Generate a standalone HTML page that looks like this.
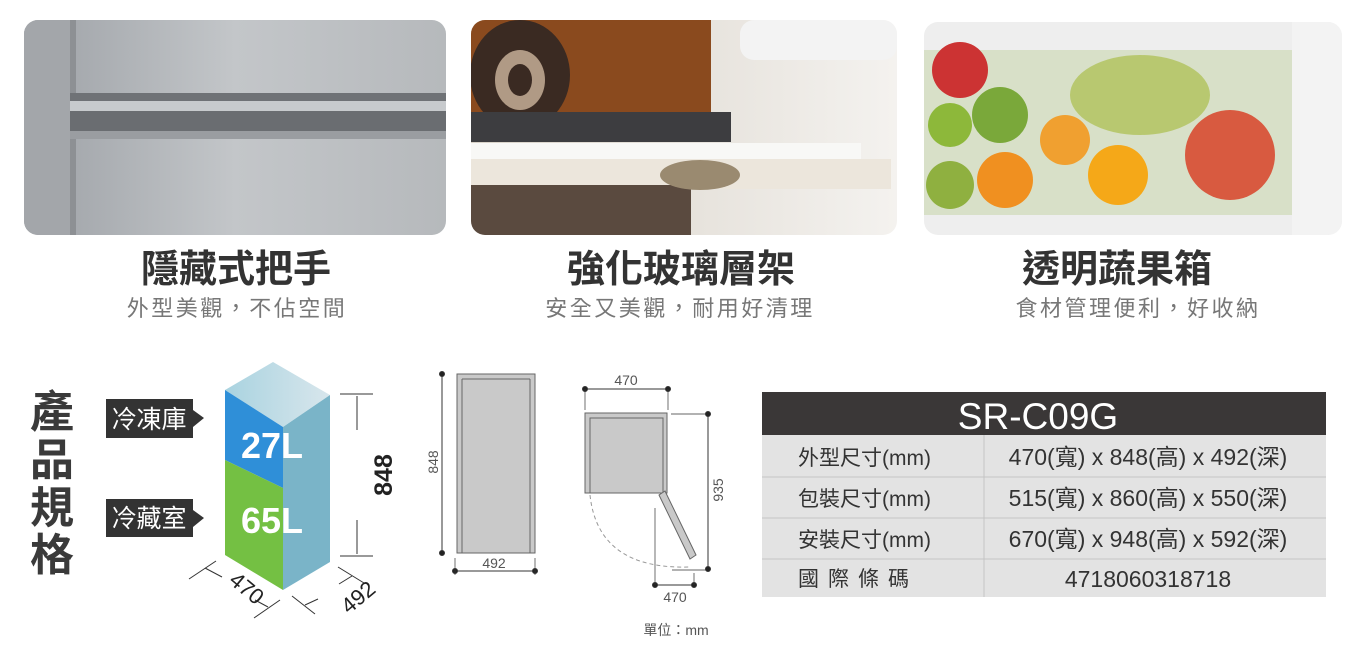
<!DOCTYPE html>
<html><head><meta charset="utf-8"><style>
html,body{margin:0;padding:0;background:#fff;}
body{width:1366px;height:667px;overflow:hidden;font-family:"Liberation Sans","Noto Sans CJK TC",sans-serif;}
svg text{font-family:"Liberation Sans","Noto Sans CJK TC",sans-serif;}
</style></head><body>
<svg width="1366" height="667" viewBox="0 0 1366 667" xmlns="http://www.w3.org/2000/svg">
<defs>
<linearGradient id="steel" x1="0" y1="0" x2="1" y2="0"><stop offset="0" stop-color="#9da1a6"/><stop offset="0.5" stop-color="#c3c6c9"/><stop offset="1" stop-color="#b6b9bc"/></linearGradient>
<linearGradient id="fr" x1="0" y1="0" x2="1" y2="0"><stop offset="0" stop-color="#d8d2c8"/><stop offset="1" stop-color="#f4f2ef"/></linearGradient>
<linearGradient id="topg" x1="0" y1="0" x2="1" y2="0"><stop offset="0" stop-color="#a9d3e0"/><stop offset="1" stop-color="#d8e6ec"/></linearGradient>
<clipPath id="c1"><rect x="24" y="20" width="422" height="215" rx="14"/></clipPath>
<clipPath id="c2"><rect x="471" y="20" width="426" height="215" rx="14"/></clipPath>
<clipPath id="c3"><rect x="924" y="22" width="418" height="213" rx="14"/></clipPath>
</defs>
<g clip-path="url(#c1)">
<rect x="24" y="20" width="422" height="215" fill="url(#steel)"/>
<rect x="24" y="20" width="46" height="215" fill="#a3a6aa"/>
<rect x="70" y="20" width="6" height="215" fill="#8d9094"/>
<rect x="70" y="93" width="376" height="8" fill="#6f7276"/>
<rect x="70" y="101" width="376" height="10" fill="#c7cacd"/>
<rect x="70" y="111" width="376" height="20" fill="#6a6d71"/>
<rect x="70" y="131" width="376" height="8" fill="#9a9da1"/>
</g>
<g clip-path="url(#c2)">
<rect x="471" y="20" width="426" height="215" fill="url(#fr)"/>
<rect x="471" y="20" width="240" height="95" fill="#8a4a1e"/>
<ellipse cx="520" cy="75" rx="50" ry="55" fill="#3a2a22"/>
<ellipse cx="520" cy="80" rx="25" ry="30" fill="#b09a85"/>
<ellipse cx="520" cy="80" rx="12" ry="16" fill="#3a2a22"/>
<rect x="471" y="112" width="260" height="30" fill="#3d3d40"/>
<rect x="471" y="143" width="390" height="16" fill="#f8f8f6"/>
<rect x="471" y="159" width="420" height="30" fill="#ece6dc"/>
<rect x="471" y="185" width="220" height="50" fill="#5a4a3f"/>
<ellipse cx="700" cy="175" rx="40" ry="15" fill="#9a8a70"/>
<rect x="740" y="20" width="157" height="40" rx="14" fill="#f3f3f3"/>
</g>
<g clip-path="url(#c3)">
<rect x="924" y="22" width="418" height="213" fill="#eeeeee"/>
<rect x="924" y="50" width="370" height="165" fill="#d8e0c8"/>
<circle cx="960" cy="70" r="28" fill="#c33"/>
<circle cx="950" cy="125" r="22" fill="#8db83a"/>
<circle cx="1000" cy="115" r="28" fill="#7aa83a"/>
<circle cx="1005" cy="180" r="28" fill="#f09020"/>
<circle cx="950" cy="185" r="24" fill="#8fb040"/>
<circle cx="1065" cy="140" r="25" fill="#f0a030"/>
<circle cx="1118" cy="175" r="30" fill="#f5a818"/>
<circle cx="1230" cy="155" r="45" fill="#d85a40"/>
<ellipse cx="1140" cy="95" rx="70" ry="40" fill="#b8c870"/>
<rect x="1292" y="22" width="50" height="213" fill="#f3f3f3"/>
</g>
<g font-weight="bold" font-size="38" fill="#333" text-anchor="middle">
<text x="236" y="282">隱藏式把手</text>
<text x="681" y="282">強化玻璃層架</text>
<text x="1117" y="282">透明蔬果箱</text>
</g>
<g font-size="22" fill="#777" text-anchor="middle" letter-spacing="2.5">
<text x="237" y="316">外型美觀，不佔空間</text>
<text x="680" y="316">安全又美觀，耐用好清理</text>
<text x="1138" y="316">食材管理便利，好收納</text>
</g>
<g font-weight="bold" font-size="44" fill="#3a3a3a" text-anchor="middle">
<text x="52" y="427">產</text><text x="52" y="475">品</text><text x="52" y="523">規</text><text x="52" y="570">格</text>
</g>
<rect x="106" y="399" width="87" height="39" fill="#333"/><polygon points="193,410 204,418 193,427" fill="#333"/>
<text x="149" y="428" font-size="25" fill="#fff" text-anchor="middle">冷凍庫</text>
<rect x="106" y="499" width="87" height="38" fill="#333"/><polygon points="193,510 204,518 193,527" fill="#333"/>
<text x="149" y="527" font-size="25" fill="#fff" text-anchor="middle">冷藏室</text>
<polygon points="273,362 330,395 283,427 225,390" fill="url(#topg)"/>
<polygon points="283,427 330,395 330,562 283,590" fill="#7ab4c8"/>
<polygon points="225,390 283,427 283,488 225,460" fill="#2f8fd8"/>
<polygon points="225,460 283,488 283,590 225,555" fill="#74c043"/>
<text x="272" y="458" font-size="36" font-weight="bold" fill="#fff" text-anchor="middle">27L</text>
<text x="272" y="533" font-size="36" font-weight="bold" fill="#fff" text-anchor="middle">65L</text>
<g stroke="#333" stroke-width="1" fill="none">
<line x1="340" y1="394" x2="373" y2="394"/><line x1="340" y1="556" x2="373" y2="556"/>
<line x1="357" y1="396" x2="357" y2="430"/><line x1="357" y1="520" x2="357" y2="554"/>
<line x1="189" y1="579" x2="216" y2="561"/><line x1="254" y1="618" x2="280" y2="600"/>
<line x1="205" y1="568" x2="222" y2="577"/><line x1="255" y1="600" x2="268" y2="607"/>
<line x1="292" y1="596" x2="315" y2="614"/><line x1="338" y1="567" x2="364" y2="583"/>
<line x1="305" y1="605" x2="318" y2="599"/><line x1="339" y1="584" x2="352" y2="576"/>
</g>
<text x="0" y="0" font-size="25" font-weight="bold" fill="#222" text-anchor="middle" transform="translate(392,475) rotate(-90)">848</text>
<text x="0" y="0" font-size="22" fill="#222" text-anchor="middle" transform="translate(242,594) rotate(40)">470</text>
<text x="0" y="0" font-size="22" fill="#222" text-anchor="middle" transform="translate(363,603) rotate(-40)">492</text>
<rect x="457" y="374" width="78" height="179" fill="#c9c9c9" stroke="#666" stroke-width="1"/>
<line x1="462" y1="379" x2="462" y2="553" stroke="#666"/><line x1="462" y1="379" x2="530" y2="379" stroke="#666"/><line x1="530" y1="379" x2="530" y2="553" stroke="#666"/>
<g stroke="#333" fill="#222">
<line x1="442" y1="374" x2="442" y2="553"/><circle cx="442" cy="374" r="2.5"/><circle cx="442" cy="553" r="2.5"/>
<line x1="455" y1="571" x2="535" y2="571"/><circle cx="455" cy="571" r="2.5"/><circle cx="535" cy="571" r="2.5"/>
<line x1="455" y1="558" x2="455" y2="575" stroke-width="0.7"/><line x1="535" y1="558" x2="535" y2="575" stroke-width="0.7"/>
</g>
<text x="0" y="0" font-size="14" fill="#555" text-anchor="middle" transform="translate(438,462) rotate(-90)">848</text>
<text x="494" y="568" font-size="14" fill="#555" text-anchor="middle">492</text>
<rect x="585" y="413" width="82" height="80" fill="#c9c9c9" stroke="#666"/>
<rect x="590" y="418" width="73" height="75" fill="none" stroke="#666"/>
<polygon points="659,495 665,491 696,555 690,559" fill="#c9c9c9" stroke="#666"/>
<path d="M590,495 Q598,570 690,567" fill="none" stroke="#999" stroke-dasharray="4,3"/>
<g stroke="#333" fill="#222">
<line x1="585" y1="389" x2="668" y2="389"/><circle cx="585" cy="389" r="2.5"/><circle cx="668" cy="389" r="2.5"/>
<line x1="585" y1="389" x2="585" y2="410" stroke-width="0.7"/><line x1="668" y1="389" x2="668" y2="410" stroke-width="0.7"/>
<line x1="708" y1="414" x2="708" y2="569"/><circle cx="708" cy="414" r="2.5"/><circle cx="708" cy="569" r="2.5"/>
<line x1="671" y1="414" x2="706" y2="414" stroke-width="0.7"/><line x1="672" y1="570" x2="706" y2="570" stroke-width="0.7"/>
<line x1="655" y1="585" x2="694" y2="585"/><circle cx="655" cy="585" r="2.5"/><circle cx="694" cy="585" r="2.5"/>
<line x1="655" y1="508" x2="655" y2="585" stroke-width="0.7"/><line x1="694" y1="573" x2="694" y2="585" stroke-width="0.7"/>
</g>
<text x="626" y="385" font-size="14" fill="#555" text-anchor="middle">470</text>
<text x="0" y="0" font-size="14" fill="#555" text-anchor="middle" transform="translate(723,490) rotate(-90)">935</text>
<text x="675" y="602" font-size="14" fill="#555" text-anchor="middle">470</text>
<text x="676" y="635" font-size="14" fill="#555" text-anchor="middle">單位：mm</text>
<rect x="762" y="392" width="564" height="43" fill="#3a3737"/>
<text x="1038" y="429" font-size="37" fill="#fff" text-anchor="middle">SR-C09G</text>
<rect x="762" y="435" width="564" height="162" fill="#e3e3e3"/>
<g stroke="#c4c4c4" stroke-width="1"><line x1="762" y1="477" x2="1326" y2="477"/><line x1="762" y1="518" x2="1326" y2="518"/><line x1="762" y1="559" x2="1326" y2="559"/><line x1="984" y1="435" x2="984" y2="597"/></g>
<g font-size="21" fill="#333">
<text x="798" y="465">外型尺寸(mm)</text><text x="798" y="506">包裝尺寸(mm)</text><text x="798" y="547">安裝尺寸(mm)</text>
<text x="798" y="586" letter-spacing="9">國際條碼</text>
</g>
<g font-size="23" fill="#333" text-anchor="middle">
<text x="1148" y="465">470(寬) x 848(高) x 492(深)</text>
<text x="1148" y="506">515(寬) x 860(高) x 550(深)</text>
<text x="1148" y="547">670(寬) x 948(高) x 592(深)</text>
<text x="1148" y="587">4718060318718</text>
</g>
</svg>
</body></html>
